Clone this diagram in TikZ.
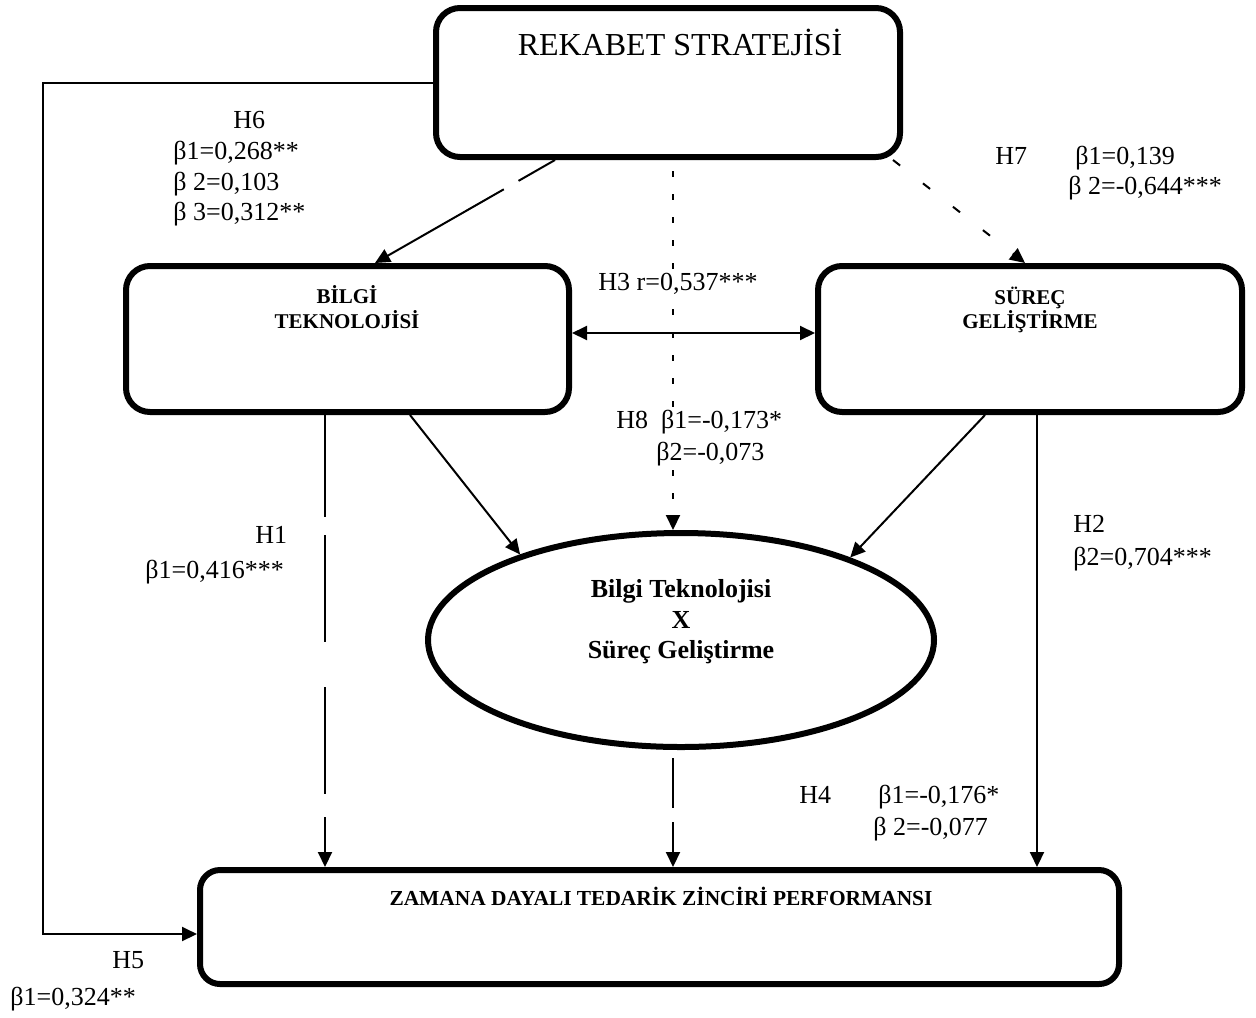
\documentclass[tikz,border=0pt]{standalone}
\usepackage{fontspec}
\setmainfont{Liberation Serif}
\usetikzlibrary{arrows.meta,shapes.geometric,calc}

\begin{document}
\begin{tikzpicture}[x=0.5pt,y=-0.5pt,
  box/.style={draw, line width=3pt, rounded corners=12pt, inner sep=0pt},
  oval/.style={ellipse, draw, line width=3pt, inner sep=0pt},
  link/.style={line width=1pt},
  tip/.style={-{Triangle[length=7.5pt,width=7pt]}},
  bothtips/.style={{Triangle[length=7.5pt,width=7pt]}-{Triangle[length=7.5pt,width=7pt]}},
  lbl/.style={font=\fontsize{13}{15}\selectfont, inner sep=0pt, anchor=base west},
  lblw/.style={lbl, fill=white, inner sep=1.5pt},
  boxtitle/.style={font=\bfseries\fontsize{10.5}{12}\selectfont, inner sep=0pt, anchor=base},
  ovaltitle/.style={font=\bfseries\fontsize{13}{15}\selectfont, inner sep=0pt, anchor=base},
]
\useasboundingbox (0,0) rectangle (1256,1017);

% constructs
\node[box, minimum width=232pt, minimum height=74.5pt] (rek) at (668,82.5) {};
\node[box, minimum width=221.5pt, minimum height=73pt] (bilgi) at (347.5,339) {};
\node[box, minimum width=212pt, minimum height=73pt] (surec) at (1030,339) {};
\node[oval, minimum width=253pt, minimum height=107pt] (ell) at (681,640) {};
\node[box, rounded corners=10pt, minimum width=459.5pt, minimum height=57pt] (zaman) at (659.5,927) {};

% titles
\node[font=\fontsize{16}{18}\selectfont, inner sep=0pt, anchor=base] (rekT) at (680,55) {REKABET STRATEJİSİ};
\node[boxtitle] (bilgiT1) at (347,303) {BİLGİ};
\node[boxtitle] (bilgiT2) at (347,328) {TEKNOLOJİSİ};
\node[boxtitle] (surecT1) at (1030,304) {SÜREÇ};
\node[boxtitle] (surecT2) at (1030,328) {GELİŞTİRME};
\node[ovaltitle] (ellT1) at (681,597) {Bilgi Teknolojisi};
\node[ovaltitle] (ellT2) at (681,628) {X};
\node[ovaltitle] (ellT3) at (681,658) {Süreç Geliştirme};
\node[font=\bfseries\fontsize{10.7}{12}\selectfont, inner sep=0pt, anchor=base] (zamanT) at (661,905) {ZAMANA DAYALI TEDARİK ZİNCİRİ PERFORMANSI};

% connectors
\coordinate (h5a) at ([xshift=-195pt]rek.west);
\draw[link, tip] (rek.west) -- (h5a) |- ([yshift=-3.5pt]zaman.west);

\draw[link, tip, dash pattern=on 21pt off 8.5pt on 200pt off 0pt]
  ([xshift=-56.5pt]rek.south) -- ([xshift=13.75pt]bilgi.north);

\draw[link, tip, dash pattern=on 4.5pt off 14.5pt]
  ([xshift=112.5pt]rek.south) -- ([xshift=-2.5pt]surec.north);

\coordinate (h8a) at ([xshift=2.5pt]rek.south);
\draw[link, tip, dash pattern=on 3pt off 8.5pt, dash phase=6pt]
  (h8a) -- (h8a |- ell.north);

\draw[link, bothtips] ([yshift=3pt]bilgi.east) -- ([yshift=3pt]surec.west);

\draw[link, tip] ([xshift=31.25pt]bilgi.south) -- (ell.152.9);
\draw[link, tip] ([xshift=-22.5pt]surec.south) -- (ell.26.7);

\coordinate (h1a) at ([xshift=-11.25pt]bilgi.south);
\draw[link, tip, dash pattern=on 51pt off 9pt on 53.5pt off 22.5pt on 53.5pt off 11.5pt on 200pt off 0pt]
  (h1a) -- (h1a |- zaman.north);

\coordinate (h4a) at ([xshift=-4pt,yshift=-4pt]ell.south);
\draw[link, tip, dash pattern=on 25pt off 7pt on 100pt off 0pt] (h4a) -- (h4a |- zaman.north);

\coordinate (h2a) at ([xshift=3.5pt]surec.south);
\draw[link, tip] (h2a) -- (h2a |- zaman.north);

% coefficients
\node[lbl] (h6) at (233,128) {H6};
\node[lbl] (h6b1) at (173,159) {β1=0,268**};
\node[lbl] (h6b2) at (173,190) {β 2=0,103};
\node[lbl] (h6b3) at (173,220) {β 3=0,312**};

\node[lbl] (h7) at (995,164) {H7};
\node[lbl] (h7b1) at (1075,164) {β1=0,139};
\node[lbl] (h7b2) at (1068,194) {β 2=-0,644***};

\node[lblw] (h3) at (595,290) {H3 r=0,537***};

\node[lblw] (h8) at (613,428) {H8~~β1=-0,173*};
\node[lblw] (h8b2) at (653,460) {β2=-0,073};

\node[lbl] (h1) at (255,543) {H1};
\node[lbl] (h1b1) at (145,578) {β1=0,416***};

\node[lbl] (h2) at (1073,532) {H2};
\node[lbl] (h2b2) at (1073,565) {β2=0,704***};

\node[lbl] (h4) at (799,803) {H4};
\node[lbl] (h4b1) at (878,803) {β1=-0,176*};
\node[lbl] (h4b2) at (873,835) {β 2=-0,077};

\node[lbl] (h5) at (112,968) {H5};
\node[lbl] (h5b1) at (10,1005) {β1=0,324**};
\end{tikzpicture}
\end{document}
